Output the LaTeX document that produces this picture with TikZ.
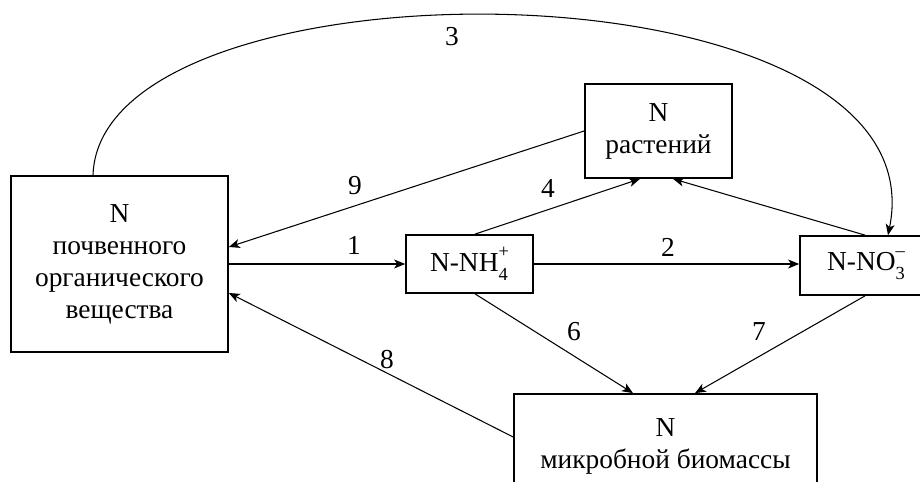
\documentclass[tikz,border=0pt]{standalone}
\usepackage{fontspec}
\setmainfont{Liberation Serif}
\usetikzlibrary{arrows.meta,calc}
\newcommand{\chemsub}[2]{\makebox[0pt][l]{\raisebox{-0.33em}{\fontsize{10.5}{10.5}\selectfont #1}}\raisebox{0.5em}{\fontsize{10.5}{10.5}\selectfont #2}}
\begin{document}
\begin{tikzpicture}[x=0.02cm,y=-0.02cm,
  box/.style={draw,line width=1pt,inner sep=0pt,align=center,font=\fontsize{15.6}{18.2}\selectfont},
  arr/.style={line width=0.6pt,-{Stealth[length=2.2mm,width=1.8mm,inset=0.6mm]}},
  lab/.style={font=\fontsize{15.6}{18.2}\selectfont,inner sep=0pt}]
\clip (0,0) rectangle (920,482);
\node[box,minimum width=4.34cm,minimum height=3.52cm] (soil) at (119.5,264) {N\\почвенного\\органического\\вещества};
\node[box,minimum width=2.94cm,minimum height=1.88cm] (plants) at (658.5,131) {N\\растений};
\node[box,minimum width=2.54cm,minimum height=1.16cm] (nh4) at (469.5,264) {N-NH\chemsub{4}{+}};
\node[box,minimum width=2.64cm,minimum height=1.18cm] (no3) at (866,265.5) {N-NO\chemsub{3}{–}};
\node[box,minimum width=6.06cm,minimum height=2.08cm] (micro) at (665.5,446) {N\\микробной биомассы};

\draw[arr] (soil.east |- nh4.west) -- (nh4.west);
\draw[arr] (nh4.east) -- (no3.west |- nh4.east);
\draw[arr] (plants.west) -- ($(soil.east)+(0,-17)$);
\draw[arr] ($(micro.west)+(0,-9)$) -- ($(soil.east)+(0,29)$);
\draw[arr] ($(nh4.north)+(5.5,0)$) -- ($(plants.south)+(-18.5,0)$);
\draw[arr] ($(no3.north)+(-1,0)$) -- ($(plants.south)+(14.5,0)$);
\draw[arr] ($(nh4.south)+(5.5,0)$) -- ($(micro.north)+(-32.5,0)$);
\draw[arr] ($(no3.south)+(-1,0)$) -- ($(micro.north)+(29.5,0)$);
\draw[arr] ($(soil.north)+(-26.5,0)$) .. controls (100,-50) and (945,-45) .. ($(no3.north)+(22,0)$);

\node[lab] (l1) at (354,245) {1};
\node[lab] (l2) at (668,247) {2};
\node[lab] (l3) at (452,37) {3};
\node[lab] (l4) at (548,188) {4};
\node[lab] (l6) at (574,332) {6};
\node[lab] (l7) at (759,332) {7};
\node[lab] (l8) at (387,360) {8};
\node[lab] (l9) at (355,186) {9};
\end{tikzpicture}
\end{document}
